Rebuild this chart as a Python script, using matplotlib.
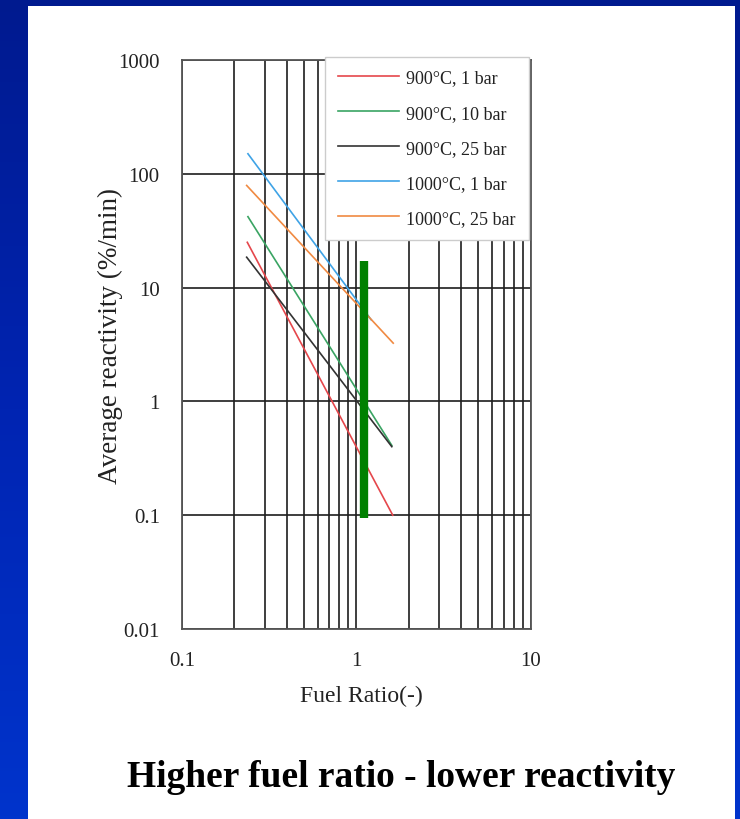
import numpy as np
import matplotlib
matplotlib.use("Agg")
import matplotlib.pyplot as plt
from matplotlib.patches import Rectangle
from matplotlib.colors import LinearSegmentedColormap
from matplotlib.ticker import LogLocator, FixedLocator, NullFormatter

plt.rcParams['font.family'] = ['Liberation Serif', 'DejaVu Serif']

# ---- data ----
series_labels = ["900°C, 1 bar", "900°C, 10 bar", "900°C, 25 bar",
                 "1000°C, 1 bar", "1000°C, 25 bar"]
series_colors = ["#e5474c", "#3aa463", "#333333", "#3fa3e6", "#f08a42"]
x_900_1 = [0.237, 1.62]
y_900_1 = [25.0, 0.1]
x_900_10 = [0.239, 1.60]
y_900_10 = [42.0, 0.41]
x_900_25 = [0.235, 1.60]
y_900_25 = [18.5, 0.40]
x_1000_1 = [0.239, 1.22]
y_1000_1 = [150.0, 5.2]
x_1000_25 = [0.235, 1.63]
y_1000_25 = [79.0, 3.25]
bar_x = [1.11, 1.11]
bar_y = [0.095, 17.0]
y_ticks = [0.01, 0.1, 1, 10, 100, 1000]
y_ticklabels = ["0.01", "0.1", "1", "10", "100", "1000"]
x_ticks = [0.1, 1, 10]
x_ticklabels = ["0.1", "1", "10"]

W, H = 740, 820
fig = plt.figure(figsize=(W / 100, H / 100), dpi=100)

# background gradient
bg = fig.add_axes([0, 0, 1, 1])
cmap = LinearSegmentedColormap.from_list("bg", ["#001a8f", "#0024b2", "#0034cc"])
grad = np.linspace(0, 1, 256).reshape(-1, 1)
bg.imshow(grad, aspect="auto", cmap=cmap, extent=[0, 1, 0, 1], origin="upper")
bg.add_patch(Rectangle((28 / W, 0), (735 - 28) / W, (H - 7) / H,
                       facecolor="white", edgecolor="none", transform=bg.transAxes))
bg.set_xlim(0, 1)
bg.set_ylim(0, 1)
bg.axis("off")

# main axes
left, right, top, bottom = 182, 530.5, 61, 630
ax = fig.add_axes([left / W, 1 - bottom / H, (right - left) / W, (bottom - top) / H])
ax.set_xscale("log")
ax.set_yscale("log")
ax.set_xlim(0.1, 10)
ax.set_ylim(0.01, 1000)

xs = [x_900_1, x_900_10, x_900_25, x_1000_1, x_1000_25]
ys = [y_900_1, y_900_10, y_900_25, y_1000_1, y_1000_25]
for xx, yy, lab, col in zip(xs, ys, series_labels, series_colors):
    ax.plot(xx, yy, color=col, lw=1.2, label=lab, zorder=3)

ax.plot(bar_x, bar_y, color="#008000", lw=6, solid_capstyle="butt", zorder=4)

ax.xaxis.set_major_locator(FixedLocator(x_ticks))
ax.set_xticklabels(x_ticklabels)
ax.xaxis.set_minor_locator(LogLocator(base=10, subs=np.arange(2, 10)))
ax.xaxis.set_minor_formatter(NullFormatter())
ax.yaxis.set_major_locator(FixedLocator(y_ticks))
ax.set_yticklabels(y_ticklabels)
ax.yaxis.set_minor_locator(FixedLocator([]))

ax.grid(True, which="major", axis="both", color="#1e1e1e", lw=1.2)
ax.grid(True, which="minor", axis="x", color="#1e1e1e", lw=1.2)
ax.tick_params(which="both", length=0)
ax.tick_params(axis="y", pad=16, labelsize=15, labelcolor="#222222")
ax.tick_params(axis="x", pad=16, labelsize=15, labelcolor="#222222")
for s in ax.spines.values():
    s.set_color("#555555")
    s.set_linewidth(1.3)

fig.text(110 / W, 1 - 336 / H, "Average reactivity (%/min)", rotation=90,
         ha="center", va="center", fontsize=19.5, color="#222222")
fig.text(361 / W, 1 - 696 / H, "Fuel Ratio(-)",
         ha="center", va="center", fontsize=17, color="#222222")

leg = ax.legend(loc="upper left", bbox_to_anchor=(0.41, 1.006), borderaxespad=0,
                fontsize=13, handlelength=3.4, handletextpad=0.4, labelspacing=1.0,
                borderpad=0.72, frameon=True, fancybox=False, framealpha=1,
                edgecolor="#cccccc")
leg.get_frame().set_linewidth(1.0)
for t in leg.get_texts():
    t.set_color("#222222")

fig.text(401 / W, 1 - 778 / H, "Higher fuel ratio - lower reactivity",
         ha="center", va="center", fontsize=27, fontweight="bold", color="black")

fig.savefig("out.png", dpi=100)
